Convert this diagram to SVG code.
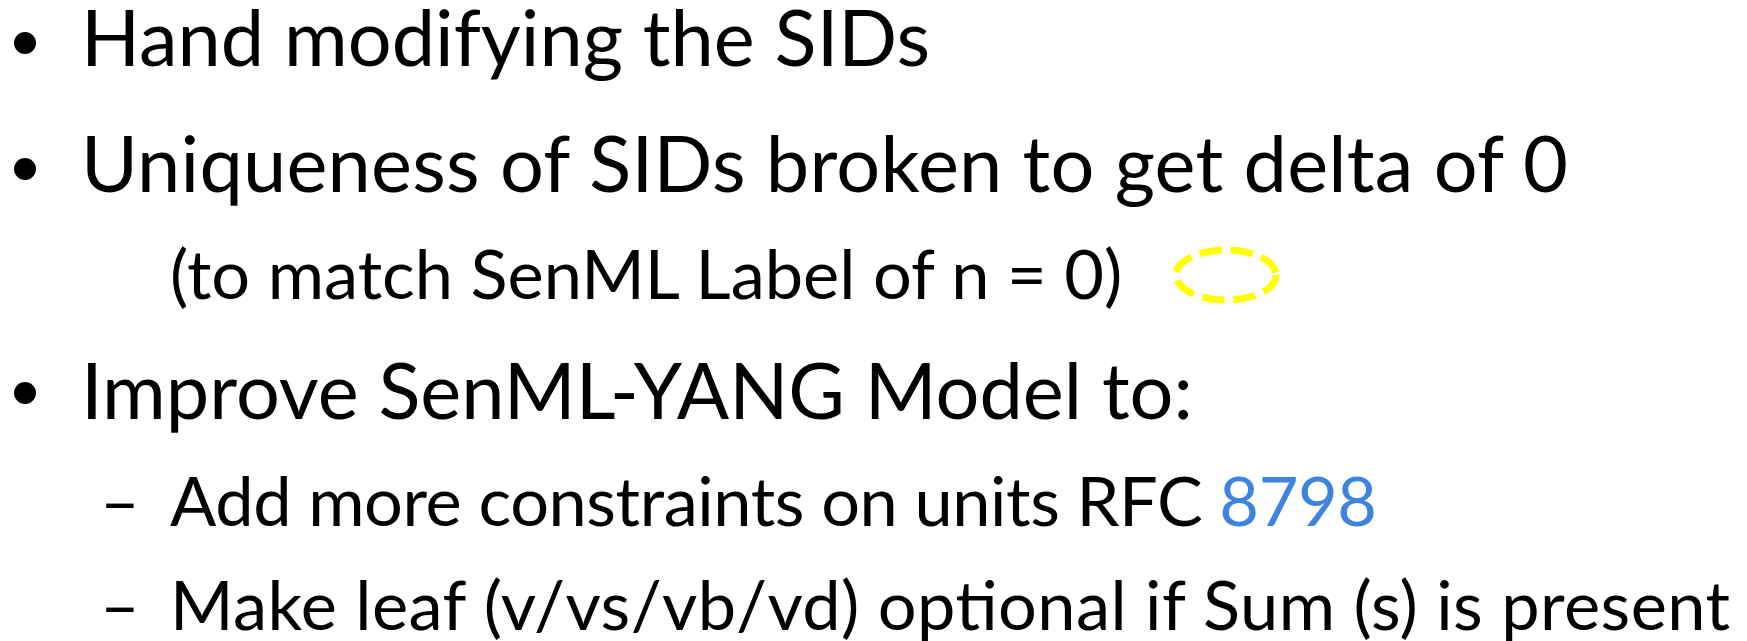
<svg xmlns="http://www.w3.org/2000/svg" width="1747" height="641" viewBox="0 0 1747 641">
  <style>
    text { font-family: Lato, "Liberation Sans", sans-serif; fill: #000; }
    .l1 { font-size: 77.5px; }
    .l2 { font-size: 68.5px; }
    .link { fill: #3c84e0; }
    .mark { fill: none; stroke: #ffff00; stroke-width: 7; stroke-dasharray: 22 9; }
  </style>
  <rect width="1747" height="641" fill="#ffffff"/>

  <g id="item-hand-modifying">
    <circle cx="25" cy="43" r="11"/>
    <text class="l1" x="81" y="66">Hand modifying the SIDs</text>
  </g>

  <g id="item-uniqueness">
    <circle cx="25" cy="169" r="11"/>
    <text class="l1" x="81" y="192" textLength="1487">Uniqueness of SIDs broken to get delta of 0</text>
    <text class="l2" x="170" y="299">(to match SenML Label of n = 0)</text>
    <ellipse class="mark" cx="1226" cy="275" rx="50" ry="25"/>
  </g>

  <g id="item-improve">
    <circle cx="25" cy="393" r="11"/>
    <text class="l1" x="81" y="419">Improve SenML-YANG Model to:</text>
  </g>

  <g id="sub-constraints">
    <text class="l2" x="100" y="526">–</text>
    <text class="l2" x="170" y="526" textLength="1207">Add more constraints on units RFC <tspan class="link">8798</tspan></text>
  </g>

  <g id="sub-optional">
    <text class="l2" x="100" y="630">–</text>
    <text class="l2" x="170" y="630" textLength="1560">Make leaf (v/vs/vb/vd) optional if Sum (s) is present</text>
  </g>
</svg>
